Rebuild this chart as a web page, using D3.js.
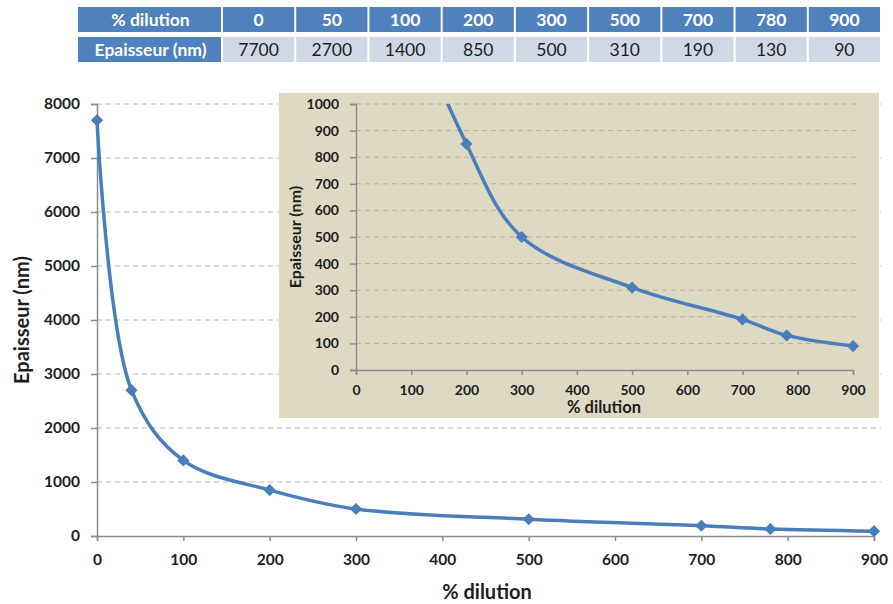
<!DOCTYPE html>
<html><head><meta charset="utf-8">
<script src="https://cdn.jsdelivr.net/npm/d3@7"></script>
<style>body{margin:0;background:#fff;} svg{display:block;font-family:Lato,"Open Sans",sans-serif;}</style>
</head><body>
<svg id="c" width="893" height="604"></svg>
<script>
// ---- data ----
const tableHeader = ["% dilution", "Epaisseur (nm)"];
const tableDilution = ["0","50","100","200","300","500","700","780","900"];
const tableThickness = ["7700","2700","1400","850","500","310","190","130","90"];
const dilution = [0, 40, 100, 200, 300, 500, 700, 780, 900];   // plotted x positions
const thickness = [7700, 2700, 1400, 850, 500, 310, 190, 130, 90];
const mainYTicks = [0,1000,2000,3000,4000,5000,6000,7000,8000];
const xTicks = [0,100,200,300,400,500,600,700,800,900];
const insetYTicks = [0,100,200,300,400,500,600,700,800,900,1000];
const xTitle = "% dilution", yTitle = "Epaisseur (nm)";

const blue = "#4a7ebb", axisCol = "#8c8c8c", gridCol = "#b8b8b8", txt = "#1e1e1e";
const pts = dilution.map((d,i)=>({x:d,y:thickness[i]}));
const svg = d3.select("#c");

// ---- table ----
const tX = 78, tW0 = 145, tRight = 882, tTop = 7, rowH = 25, rowGap = 5;
const colScale = d3.scaleBand().domain(d3.range(tableDilution.length)).range([tX+tW0, tRight]);
const tbl = svg.append("g");
[tableDilution, tableThickness].forEach((row, r) => {
  const y0 = tTop + r*(rowH+rowGap);
  tbl.append("rect").attr("x", tX).attr("y", y0).attr("width", tW0-2).attr("height", rowH).attr("fill", "#4f81bd");
  tbl.append("text").attr("x", tX + tW0/2).attr("y", y0+rowH/2).attr("dy","0.35em").attr("text-anchor","middle")
    .attr("fill","#fff").attr("font-weight","bold").attr("font-size",17.5).text(tableHeader[r]);
  row.forEach((v,i)=>{
    tbl.append("rect").attr("x", colScale(i)).attr("y", y0).attr("width", colScale.bandwidth()-2).attr("height", rowH)
      .attr("fill", r===0 ? "#4f81bd" : "#d0d8e8");
    tbl.append("text").attr("x", colScale(i)+colScale.bandwidth()/2-1).attr("y", y0+rowH/2).attr("dy","0.35em")
      .attr("text-anchor","middle").attr("font-size",17.5)
      .attr("fill", r===0 ? "#fff" : txt).attr("font-weight", r===0 ? "bold" : "normal").text(v);
  });
});

// ---- main chart ----
const x = d3.scaleLinear().domain([0,900]).range([97,874]);
const y = d3.scaleLinear().domain([0,8000]).range([536,104]);
const main = svg.append("g");
main.append("g").selectAll("line").data(mainYTicks.slice(1)).join("line")
  .attr("x1",97).attr("x2",881).attr("y1",d=>y(d)).attr("y2",d=>y(d))
  .attr("stroke",gridCol).attr("stroke-dasharray","5,4").attr("stroke-width",1);
const yAx = main.append("g").attr("transform","translate(97,0)")
  .call(d3.axisLeft(y).tickValues(mainYTicks).tickSize(6).tickPadding(11).tickFormat(d3.format("d")));
const xAx = main.append("g").attr("transform","translate(0,536)")
  .call(d3.axisBottom(x).tickValues(xTicks).tickSize(5).tickPadding(13).tickFormat(d3.format("d")));
[yAx,xAx].forEach(a=>{
  a.select(".domain").attr("stroke",axisCol).attr("stroke-width",1.5);
  a.selectAll(".tick line").attr("stroke",axisCol).attr("stroke-width",1.5);
  a.selectAll("text").attr("fill",txt).attr("font-size",15.5).attr("font-weight","bold").attr("font-family","Lato");
});
main.append("text").attr("x",487).attr("y",599).attr("text-anchor","middle").attr("font-size",20)
  .attr("font-weight","bold").attr("fill",txt).text(xTitle);
main.append("text").attr("transform","translate(29,320) rotate(-90)").attr("text-anchor","middle").attr("font-size",20)
  .attr("font-weight","bold").attr("fill",txt).text(yTitle);

const line = d3.line().x(d=>x(d.x)).y(d=>y(d.y)).curve(d3.curveCatmullRom.alpha(0.5));
main.append("path").datum(pts).attr("d",line).attr("fill","none").attr("stroke",blue).attr("stroke-width",3.5);
const diamond = d3.symbol().type(d3.symbolDiamond2).size(95);
main.append("g").selectAll("path").data(pts).join("path")
  .attr("transform",d=>`translate(${x(d.x)},${y(d.y)})`).attr("d",diamond).attr("fill",blue);

// ---- inset ----
const ins = svg.append("g");
ins.append("rect").attr("x",279).attr("y",93).attr("width",600).attr("height",325).attr("fill","#ddd9c3");
const xi = d3.scaleLinear().domain([0,900]).range([356,853]);
const yi = d3.scaleLinear().domain([0,1000]).range([370,104]);
ins.append("g").selectAll("line").data(insetYTicks.slice(1)).join("line")
  .attr("x1",356).attr("x2",856).attr("y1",d=>yi(d)).attr("y2",d=>yi(d))
  .attr("stroke","#b3b0a0").attr("stroke-dasharray","5,4").attr("stroke-width",1);
const yiAx = ins.append("g").attr("transform","translate(356,0)")
  .call(d3.axisLeft(yi).tickValues(insetYTicks).tickSize(6).tickPadding(11).tickFormat(d3.format("d")));
const xiAx = ins.append("g").attr("transform","translate(0,370)")
  .call(d3.axisBottom(xi).tickValues(xTicks).tickSize(5).tickPadding(10).tickFormat(d3.format("d")));
[yiAx,xiAx].forEach(a=>{
  a.select(".domain").attr("stroke",axisCol).attr("stroke-width",1.5);
  a.selectAll(".tick line").attr("stroke",axisCol).attr("stroke-width",1.5);
  a.selectAll("text").attr("fill",txt).attr("font-size",14).attr("font-weight","bold").attr("font-family","Lato");
});
ins.append("text").attr("x",604).attr("y",413).attr("text-anchor","middle").attr("font-size",16.5)
  .attr("font-weight","bold").attr("fill",txt).text(xTitle);
ins.append("text").attr("transform","translate(301,237) rotate(-90)").attr("text-anchor","middle").attr("font-size",16)
  .attr("font-weight","bold").attr("fill",txt).text(yTitle);
svg.append("defs").append("clipPath").attr("id","ic").append("rect").attr("x",356).attr("y",104).attr("width",520).attr("height",290);
const linei = d3.line().x(d=>xi(d.x)).y(d=>yi(d.y)).curve(d3.curveCatmullRom.alpha(0.5));
const ig = ins.append("g").attr("clip-path","url(#ic)");
ig.append("path").datum(pts).attr("d",linei).attr("fill","none").attr("stroke",blue).attr("stroke-width",3.5);
ig.append("g").selectAll("path").data(pts.filter(d=>d.y<=1000)).join("path")
  .attr("transform",d=>`translate(${xi(d.x)},${yi(d.y)})`).attr("d",diamond).attr("fill",blue);
</script>
</body></html>
